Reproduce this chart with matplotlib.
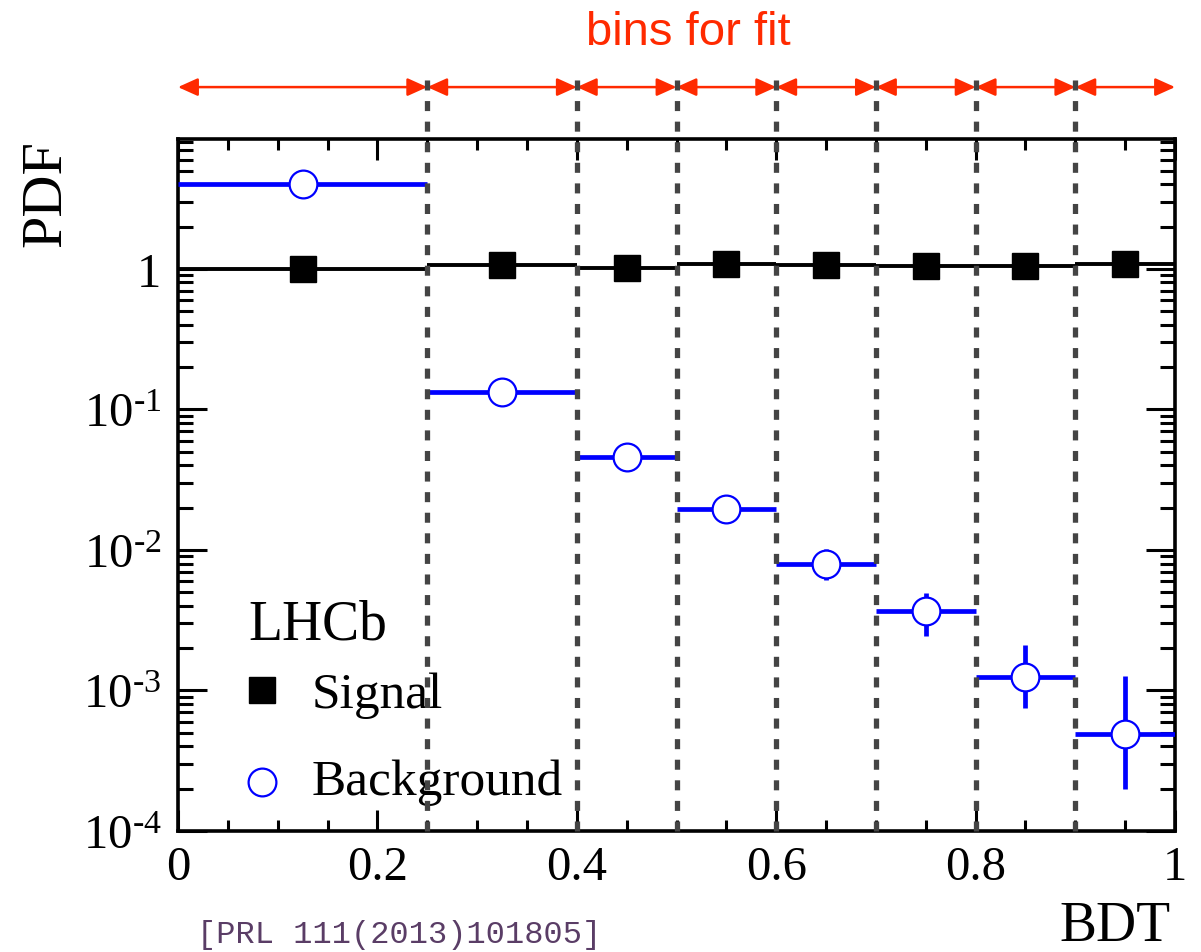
import numpy as np
import matplotlib
matplotlib.use("Agg")
import matplotlib.pyplot as plt
from matplotlib.ticker import FixedLocator, FixedFormatter, LogLocator, NullFormatter, MultipleLocator
import matplotlib.transforms as mtransforms

plt.rcParams['font.family'] = ['Liberation Serif', 'DejaVu Serif']
plt.rcParams['mathtext.fontset'] = 'custom'
plt.rcParams['mathtext.rm'] = 'Liberation Serif'
plt.rcParams['mathtext.it'] = 'Liberation Serif:italic'

# BDT bin edges used in the fit
bin_edges = [0.0, 0.25, 0.4, 0.5, 0.6, 0.7, 0.8, 0.9, 1.0]

# Signal PDF per bin
signal_pdf = [1.00, 1.06, 1.01, 1.08, 1.07, 1.04, 1.04, 1.085]

# Background PDF per bin with lower / upper error bounds
background_pdf = [4.03, 0.134, 0.046, 0.0194, 0.0080, 0.00367, 0.00124, 0.00049]
background_lo = [4.03, 0.134, 0.046, 0.0194, 0.00607, 0.00246, 0.00075, 0.00020]
background_hi = [4.03, 0.134, 0.046, 0.0194, 0.0102, 0.00494, 0.00212, 0.00126]

x_tick_values = [0.0, 0.2, 0.4, 0.6, 0.8, 1.0]
x_tick_labels = ['0', '0.2', '0.4', '0.6', '0.8', '1']
y_tick_values = [1e-4, 1e-3, 1e-2, 1e-1, 1]
y_tick_labels = [r'$\mathregular{10^{\text{-}4}}$', r'$\mathregular{10^{\text{-}3}}$',
                 r'$\mathregular{10^{\text{-}2}}$', r'$\mathregular{10^{\text{-}1}}$', '1']

edges = np.array(bin_edges)
centers = 0.5 * (edges[:-1] + edges[1:])
half_w = 0.5 * np.diff(edges)
bkg = np.array(background_pdf)
bkg_err = np.vstack([bkg - np.array(background_lo), np.array(background_hi) - bkg])

fig = plt.figure(figsize=(12.01, 9.53), dpi=100)
ax = fig.add_axes([0.1482, 0.1270, 0.8302, 0.7261])
ax.set_yscale('log')
ax.set_xlim(0, 1)
ax.set_ylim(1e-4, 8.4)

blue = '#0000ff'
# background: horizontal bin bars + vertical errors
ax.errorbar(centers, bkg, xerr=half_w, yerr=bkg_err, fmt='none',
            ecolor=blue, elinewidth=3.4, capsize=0, zorder=3)
ax.plot(centers, bkg, 'o', ms=20, mfc='white', mec=blue, mew=1.6, zorder=4,
        linestyle='none')

# signal
ax.errorbar(centers, signal_pdf, xerr=half_w, fmt='none', ecolor='black',
            elinewidth=2.8, capsize=0, zorder=3)
ax.plot(centers, signal_pdf, 's', ms=19, color='black', linestyle='none', zorder=4)

# bin boundaries and fit-bin arrows above the frame
trans = mtransforms.blended_transform_factory(ax.transData, ax.transAxes)
for x in bin_edges[1:-1]:
    ax.plot([x, x], [0, 1.094], transform=trans, clip_on=False, color='#444444',
            lw=3.8, linestyle=(0, (1.9, 2.0)), solid_capstyle='butt', zorder=5)
red = '#ff2a00'
for a, b in zip(bin_edges[:-1], bin_edges[1:]):
    ax.annotate('', xy=(b, 1.075), xytext=(a, 1.075), xycoords=trans,
                textcoords=trans, annotation_clip=False,
                arrowprops=dict(arrowstyle='<|-|>,head_length=0.6,head_width=0.27',
                                color=red, lw=1.8, mutation_scale=20,
                                shrinkA=0, shrinkB=0))
fig.text(0.573, 0.965, 'bins for fit', color=red, fontsize=34,
         family=['Liberation Sans', 'DejaVu Sans'], ha='center', va='center')

# axes styling
for s in ax.spines.values():
    s.set_linewidth(2.6)
ax.yaxis.set_major_locator(FixedLocator(y_tick_values))
ax.yaxis.set_major_formatter(FixedFormatter(y_tick_labels))
ax.yaxis.set_minor_locator(LogLocator(base=10, subs=np.arange(2, 10)))
ax.yaxis.set_minor_formatter(NullFormatter())
ax.xaxis.set_major_locator(FixedLocator(x_tick_values))
ax.xaxis.set_major_formatter(FixedFormatter(x_tick_labels))
ax.xaxis.set_minor_locator(MultipleLocator(0.05))
ax.tick_params(which='both', direction='in', top=True, right=True, width=2.2,
               labelsize=35)
ax.tick_params(axis='y', which='major', length=21, pad=12)
ax.tick_params(axis='y', which='minor', length=11)
ax.tick_params(axis='x', which='major', length=15, pad=10)
ax.tick_params(axis='x', which='minor', length=8)

# legend
ax.text(0.0702, 0.2775, 'LHCb', transform=ax.transAxes, fontsize=40, va='baseline')
ax.plot([0.0843], [0.2038], 's', ms=19, color='black', transform=ax.transAxes,
        clip_on=False)
ax.text(0.1344, 0.179, 'Signal', transform=ax.transAxes, fontsize=37, va='baseline')
ax.plot([0.0843], [0.0708], 'o', ms=20, mfc='white', mec=blue, mew=1.6,
        transform=ax.transAxes, clip_on=False)
ax.text(0.1344, 0.0535, 'Background', transform=ax.transAxes, fontsize=37,
        va='baseline')

# axis titles
fig.text(0.039, 0.797, 'PDF', rotation=90, fontsize=42, ha='center', va='center')
fig.text(0.928, 0.013, 'BDT', fontsize=40, ha='center', va='baseline')
fig.text(0.164, 0.011, '[PRL 111(2013)101805]', color='#5a3d66', fontsize=23,
         family=['Liberation Mono', 'DejaVu Sans Mono'], ha='left', va='baseline')

fig.savefig('out.png', dpi=100)
